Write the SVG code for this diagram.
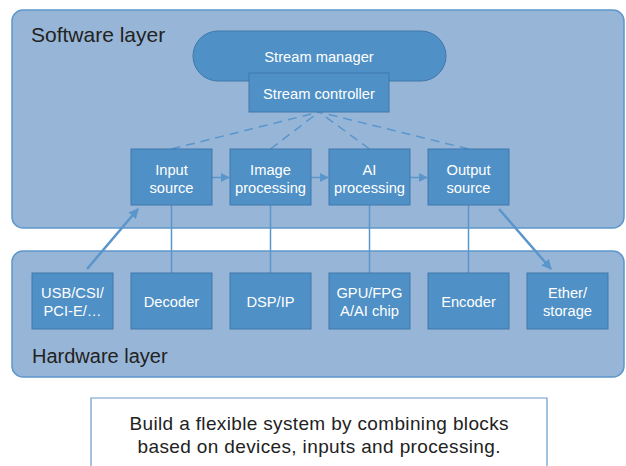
<svg xmlns="http://www.w3.org/2000/svg" width="626" height="466" viewBox="0 0 626 466">
<defs>
<style>
.layer{fill:#97b5d6;stroke:#5e97ca;stroke-width:1.5}
.node{fill:#4f90c6;stroke:#3f78ac;stroke-width:1}
.nt{fill:#ffffff;font-family:"Liberation Sans",Arial,sans-serif;font-size:14.7px;text-anchor:middle}
.lt{fill:#222222;font-family:"Liberation Sans",Arial,sans-serif}
.ct{fill:#222222;font-family:"Liberation Sans",Arial,sans-serif;font-size:19px;text-anchor:middle}
.ln{stroke:#5a96cb;stroke-width:1.5;fill:none}
.dash{stroke:#5a96cb;stroke-width:1.5;fill:none;stroke-dasharray:9 6}
.arr{stroke:#5a96cb;stroke-width:2.5;fill:none}
</style>
<marker id="ah" viewBox="0 0 10 10" refX="9" refY="5" markerWidth="4" markerHeight="4" orient="auto" markerUnits="strokeWidth">
<path d="M0,0 L10,5 L0,10 z" fill="#5a96cb"/>
</marker>
<marker id="ahs" viewBox="0 0 10 10" refX="9" refY="5" markerWidth="6" markerHeight="6" orient="auto" markerUnits="strokeWidth">
<path d="M0,0 L10,5 L0,10 z" fill="#5a96cb"/>
</marker>
</defs>
<rect width="626" height="466" fill="#ffffff"/>
<g id="software-layer">
<rect class="layer" x="12" y="10" width="612" height="218" rx="11"/>
<text class="lt" x="31" y="42" font-size="21">Software layer</text>
</g>
<g id="hardware-layer">
<rect class="layer" x="12" y="251" width="612" height="126" rx="11"/>
<text class="lt" x="32" y="363" font-size="20">Hardware layer</text>
</g>
<g id="caption">
<path d="M91,466 V398 H547 V466" fill="#ffffff" stroke="#6a9acb" stroke-width="1.2"/>
<text class="ct" x="319" y="430" textLength="379" lengthAdjust="spacing">Build a flexible system by combining blocks</text>
<text class="ct" x="319" y="453" textLength="363" lengthAdjust="spacing">based on devices, inputs and processing.</text>
</g>
<g id="connectors">
<line class="dash" x1="171.5" y1="149" x2="319" y2="112"/>
<line class="dash" x1="270.5" y1="149" x2="319" y2="112"/>
<line class="dash" x1="369.5" y1="149" x2="319" y2="112"/>
<line class="dash" x1="468.5" y1="149" x2="319" y2="112"/>
<line class="ln" x1="171.5" y1="205" x2="171.5" y2="273"/>
<line class="ln" x1="270.5" y1="205" x2="270.5" y2="273"/>
<line class="ln" x1="369.5" y1="205" x2="369.5" y2="273"/>
<line class="ln" x1="468.5" y1="205" x2="468.5" y2="273"/>
<line class="ln" x1="212" y1="177.5" x2="229" y2="177.5" marker-end="url(#ahs)"/>
<line class="ln" x1="311" y1="177.5" x2="328" y2="177.5" marker-end="url(#ahs)"/>
<line class="ln" x1="410" y1="177.5" x2="427" y2="177.5" marker-end="url(#ahs)"/>
<line class="arr" x1="87" y1="269" x2="138" y2="209" marker-end="url(#ah)"/>
<line class="arr" x1="499" y1="209" x2="551" y2="269" marker-end="url(#ah)"/>
</g>
<g id="stream-manager">
<rect class="node" x="193" y="31" width="253" height="50" rx="25"/>
<text class="nt" x="319" y="62">Stream manager</text>
</g>
<g id="stream-controller">
<rect class="node" x="249" y="73" width="140" height="39"/>
<text class="nt" x="319" y="98.5">Stream controller</text>
</g>
<g id="input-source">
<rect class="node" x="131" y="149" width="81" height="56"/>
<text class="nt" x="171.5" y="175">Input</text>
<text class="nt" x="171.5" y="193">source</text>
</g>
<g id="image-processing">
<rect class="node" x="230" y="149" width="81" height="56"/>
<text class="nt" x="270.5" y="175">Image</text>
<text class="nt" x="270.5" y="193">processing</text>
</g>
<g id="ai-processing">
<rect class="node" x="329" y="149" width="81" height="56"/>
<text class="nt" x="369.5" y="175">AI</text>
<text class="nt" x="369.5" y="193">processing</text>
</g>
<g id="output-source">
<rect class="node" x="428" y="149" width="81" height="56"/>
<text class="nt" x="468.5" y="175">Output</text>
<text class="nt" x="468.5" y="193">source</text>
</g>
<g id="usb">
<rect class="node" x="32" y="273" width="81" height="56"/>
<text class="nt" x="72.5" y="298">USB/CSI/</text>
<text class="nt" x="72.5" y="316">PCI-E/…</text>
</g>
<g id="decoder">
<rect class="node" x="131" y="273" width="81" height="56"/>
<text class="nt" x="171.5" y="307">Decoder</text>
</g>
<g id="dsp">
<rect class="node" x="230" y="273" width="81" height="56"/>
<text class="nt" x="270.5" y="307">DSP/IP</text>
</g>
<g id="gpu">
<rect class="node" x="329" y="273" width="81" height="56"/>
<text class="nt" x="369.5" y="298">GPU/FPG</text>
<text class="nt" x="369.5" y="316">A/AI chip</text>
</g>
<g id="encoder">
<rect class="node" x="428" y="273" width="81" height="56"/>
<text class="nt" x="468.5" y="307">Encoder</text>
</g>
<g id="ether">
<rect class="node" x="527" y="273" width="81" height="56"/>
<text class="nt" x="567.5" y="298">Ether/</text>
<text class="nt" x="567.5" y="316">storage</text>
</g>
</svg>
